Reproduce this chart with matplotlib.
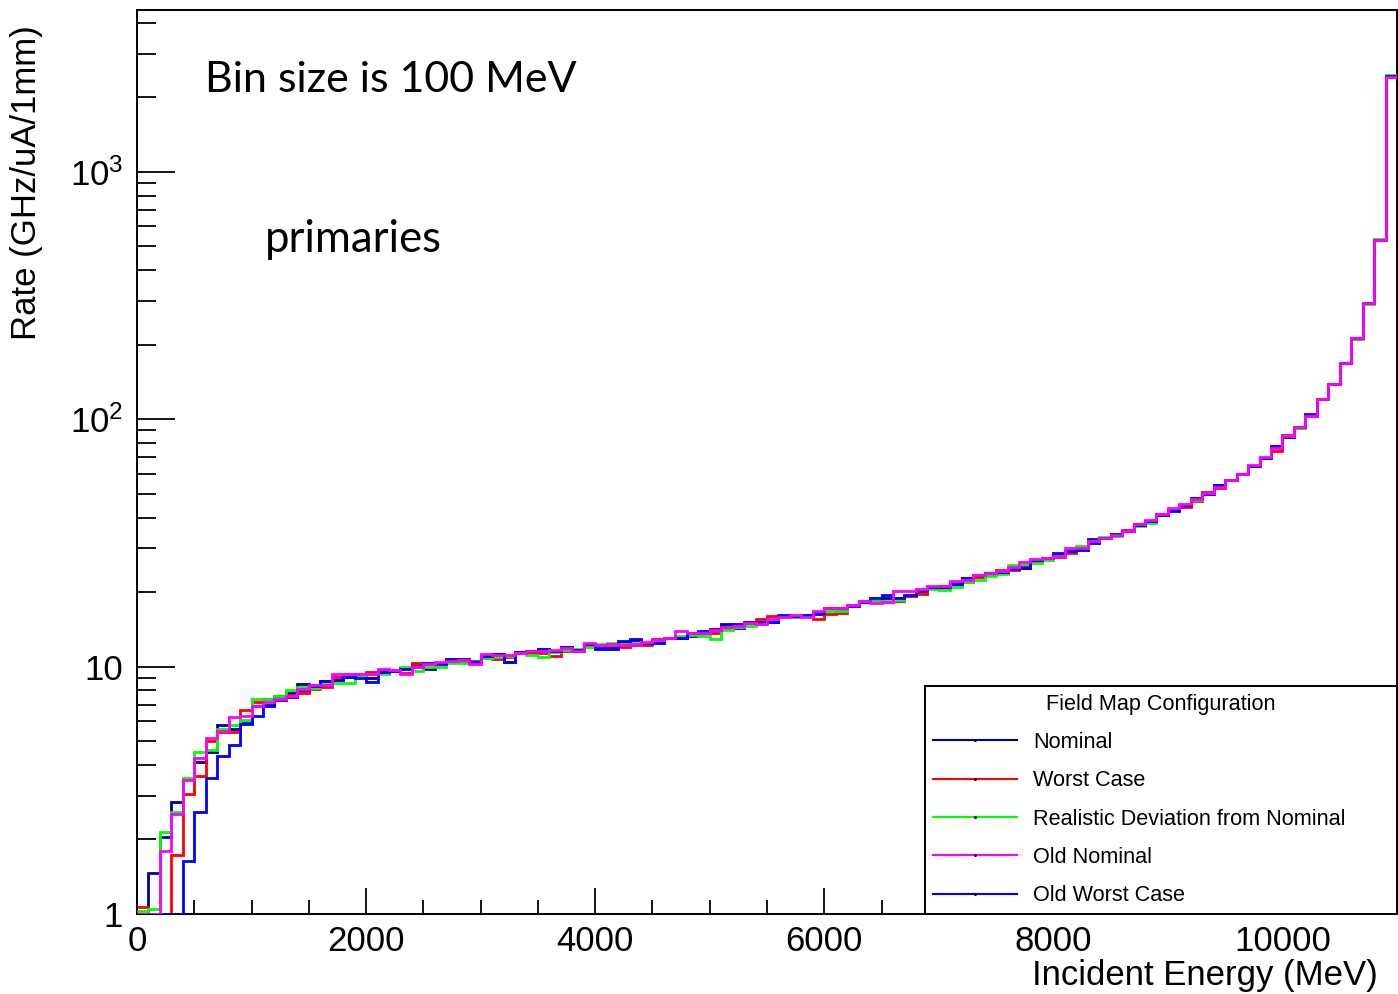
"""
primary rate vs incident energy for the field map configurations
"""

import numpy as np
import matplotlib
matplotlib.use('Agg')
from matplotlib import pyplot as plt
from matplotlib.lines import Line2D
from matplotlib.ticker import FixedLocator, FixedFormatter, NullFormatter

plt.rcParams['font.family'] = ['Liberation Sans', 'DejaVu Sans']
plt.rcParams['mathtext.fontset'] = 'custom'
plt.rcParams['mathtext.rm'] = 'Liberation Sans'
plt.rcParams['mathtext.it'] = 'Liberation Sans:italic'

# 100 MeV bins, 0 - 11000 MeV
bin_edges = np.arange(0, 11001, 100)

nominal = [
    1.0, 1.46, 2.04, 2.83, 3.5, 4.11, 4.5, 5.82, 5.6, 5.9,
    6.95, 7.0, 7.6, 7.8, 8.46, 8.4, 8.72, 8.8, 9.1, 9.2,
    9.0, 9.6, 9.6, 9.9, 10.2, 9.8, 10.3, 10.74, 10.7, 10.4,
    11.0, 11.2, 10.4, 11.4, 11.5, 11.8, 11.6, 12.0, 11.6, 12.3,
    11.8, 11.8, 12.5, 12.8, 12.4, 12.4, 13.0, 13.0, 13.3, 13.6,
    14.2, 14.8, 14.3, 15.0, 15.1, 15.1, 16.0, 16.0, 16.1, 16.3,
    17.2, 17.0, 17.6, 18.3, 18.4, 18.9, 18.9, 19.3, 20.2, 20.8,
    21.0, 21.5, 22.7, 23.4, 23.9, 24.2, 24.7, 25.0, 26.8, 27.4,
    28.4, 29.4, 29.7, 32.7, 33.0, 34.2, 35.3, 37.5, 38.6, 41.0,
    43.0, 45.0, 47.9, 50.0, 54.2, 56.5, 59.9, 64.8, 69.7, 77.5,
    84.5, 92.7, 104, 120, 138, 168, 212, 294, 530, 2420,
]
worst_case = [
    1.07, 1.0, 1.0, 1.73, 3.06, 3.62, 5.0, 5.42, 5.45, 6.65,
    7.19, 7.4, 7.5, 7.7, 7.8, 8.1, 8.3, 9.05, 9.3, 9.35,
    9.48, 9.5, 9.7, 9.4, 10.35, 10.2, 10.3, 10.5, 10.5, 10.5,
    10.8, 10.75, 10.9, 11.3, 11.3, 11.3, 11.0, 11.6, 11.7, 12.2,
    12.0, 12.0, 12.0, 12.2, 12.2, 12.9, 13.0, 13.2, 13.5, 13.7,
    13.7, 14.3, 14.7, 15.0, 15.5, 16.0, 15.9, 15.9, 16.0, 15.6,
    16.3, 16.5, 17.7, 18.4, 18.2, 18.3, 18.4, 19.2, 19.7, 20.8,
    21.1, 21.8, 22.0, 23.0, 23.7, 24.5, 24.6, 25.4, 26.5, 27.5,
    27.6, 28.7, 30.0, 32.0, 33.0, 34.0, 35.6, 37.2, 38.3, 41.2,
    43.0, 44.3, 46.8, 50.5, 52.7, 56.6, 60.0, 64.7, 69.6, 74.5,
    86.0, 92.0, 103, 120.5, 138, 168, 211, 295, 530, 2420,
]
realistic = [
    1.03, 1.05, 2.15, 2.58, 3.56, 4.51, 4.61, 5.6, 5.82, 6.1,
    7.4, 7.4, 7.58, 8.0, 8.3, 8.2, 8.5, 8.6, 8.6, 9.2,
    9.3, 9.3, 9.7, 9.97, 9.55, 10.0, 10.0, 10.3, 10.3, 10.3,
    10.8, 10.9, 11.0, 11.3, 11.1, 10.9, 11.4, 11.7, 11.8, 12.0,
    12.3, 12.5, 12.3, 12.4, 12.4, 12.4, 13.0, 13.3, 13.4, 13.3,
    12.9, 14.1, 14.5, 14.6, 14.8, 15.3, 15.8, 15.8, 16.1, 16.5,
    16.7, 16.7, 17.5, 18.2, 18.4, 18.4, 18.6, 19.5, 20.3, 20.5,
    20.4, 21.0, 22.0, 22.4, 23.3, 23.7, 25.6, 26.0, 26.2, 27.0,
    28.0, 29.2, 30.8, 31.7, 33.4, 33.8, 35.3, 37.0, 38.1, 41.0,
    43.2, 44.8, 47.2, 50.2, 53.8, 56.6, 59.8, 64.7, 69.8, 76.8,
    85.2, 92.2, 103.5, 120, 138, 168, 211, 293, 535, 2450,
]
old_nominal = [
    1.0, 1.0, 1.79, 2.54, 3.49, 4.27, 5.13, 5.5, 6.26, 6.3,
    6.9, 7.2, 7.4, 7.6, 8.1, 8.4, 8.4, 9.3, 9.35, 9.3,
    9.3, 9.78, 9.7, 9.3, 10.0, 10.2, 10.4, 10.5, 10.6, 10.2,
    11.19, 11.1, 11.1, 11.3, 11.5, 11.6, 11.7, 11.9, 11.6, 12.4,
    12.2, 12.3, 12.2, 12.3, 12.6, 12.8, 13.0, 13.9, 13.7, 13.7,
    14.0, 14.5, 14.6, 15.0, 14.9, 15.5, 15.9, 16.1, 15.9, 16.8,
    17.3, 17.2, 17.7, 18.4, 18.0, 18.2, 20.2, 20.2, 20.5, 21.1,
    21.2, 22.2, 22.4, 23.4, 23.9, 24.3, 25.2, 26.5, 27.3, 27.5,
    28.0, 30.2, 30.0, 32.2, 33.0, 34.0, 35.4, 37.6, 39.1, 41.2,
    43.6, 45.3, 47.5, 50.3, 53.2, 56.8, 60.2, 65.2, 70.0, 76.5,
    85.6, 92.5, 103, 120.5, 138.6, 168.6, 212, 294, 531, 2417,
]
old_worst_case = [
    1.0, 1.0, 1.0, 1.0, 1.64, 2.58, 3.55, 4.36, 4.83, 5.88,
    6.3, 6.9, 7.35, 7.5, 8.0, 8.35, 8.72, 8.8, 9.1, 9.0,
    8.64, 9.5, 9.6, 9.8, 10.0, 10.35, 10.2, 10.6, 10.6, 10.4,
    11.0, 11.2, 10.4, 11.3, 11.5, 11.8, 11.6, 12.0, 11.7, 12.3,
    11.9, 11.9, 12.7, 12.9, 12.5, 12.5, 13.0, 13.0, 13.7, 13.9,
    14.1, 14.6, 14.8, 15.1, 15.1, 15.2, 16.1, 16.0, 16.2, 16.4,
    17.3, 17.3, 17.6, 18.3, 19.0, 19.4, 19.0, 19.4, 20.3, 20.9,
    21.0, 21.6, 22.7, 23.4, 23.9, 24.2, 24.8, 24.9, 26.9, 27.4,
    28.7, 29.2, 29.8, 31.6, 33.0, 34.1, 35.4, 37.4, 38.8, 41.1,
    42.6, 45.0, 47.6, 50.2, 53.9, 56.6, 59.9, 64.9, 69.9, 77.2,
    85.0, 92.5, 104.5, 120.2, 138.2, 168.2, 212, 294, 531, 2425,
]

labels = ['Nominal', 'Worst Case', 'Realistic Deviation from Nominal',
          'Old Nominal', 'Old Worst Case']
colors = ['#000099', '#ff0000', '#00ff00', '#ff00ff', '#0000ff']
series = [nominal, worst_case, realistic, old_nominal, old_worst_case]
draw_order = [0, 1, 2, 4, 3]

fig = plt.figure(figsize=(13.98, 9.94), dpi=100)
ax = fig.add_axes([0.098, 0.0805, 0.9013, 0.9095])

for i in draw_order:
    ax.stairs(series[i], bin_edges, baseline=None, color=colors[i],
              linewidth=2, zorder=3)

ax.set_yscale('log')
ax.set_xlim(0, 11000)
ax.set_ylim(1, 4500)

# ROOT style ticks: inside, only on left and bottom
ax.set_xticks([0, 2000, 4000, 6000, 8000, 10000])
ax.set_xticks(np.arange(500, 11000, 500), minor=True)
ax.xaxis.set_minor_formatter(NullFormatter())
ax.yaxis.set_major_locator(FixedLocator([1, 10, 100, 1000]))
ax.yaxis.set_major_formatter(FixedFormatter(['1', '10', r'$10^{2}$', r'$10^{3}$']))
minors = [m * d for d in (1, 10, 100, 1000) for m in range(2, 10) if m * d < 4500]
ax.yaxis.set_minor_locator(FixedLocator(minors))
ax.yaxis.set_minor_formatter(NullFormatter())

ax.tick_params(axis='x', which='major', direction='in', length=19, width=1.3,
               labelsize=25, pad=8)
ax.tick_params(axis='x', which='minor', direction='in', length=10, width=1.3)
ax.tick_params(axis='y', which='major', direction='in', length=27, width=1.3,
               labelsize=25, pad=10)
ax.tick_params(axis='y', which='minor', direction='in', length=14, width=1.3)
for s in ax.spines.values():
    s.set_linewidth(1.4)

ax.set_xlabel('Incident Energy (MeV)', fontsize=25, loc='right')
ax.xaxis.set_label_coords(0.985, -0.05)
ax.set_ylabel('Rate (GHz/uA/1mm)', fontsize=25, loc='top')
ax.yaxis.set_label_coords(-0.075, 0.983)

ax.text(0.054, 0.9226, 'Bin size is 100 MeV', transform=ax.transAxes,
        fontsize=31, family='Lato', va='center', ha='left')
ax.text(0.1016, 0.7456, 'primaries', transform=ax.transAxes,
        fontsize=31.5, family='Lato', va='center', ha='left')

handles = [Line2D([], [], color=c, linewidth=1.5, marker='o', markersize=1.2,
                  markerfacecolor='k', markeredgecolor='k') for c in colors]
leg = ax.legend(handles, labels, title='Field Map Configuration',
                loc='lower right', bbox_to_anchor=(0.6254, 0, 0.3746, 0.25),
                mode='expand', borderaxespad=0, fontsize=15.6,
                title_fontsize=15.6, fancybox=False, framealpha=1,
                edgecolor='black', numpoints=1, handlelength=3.9,
                handletextpad=0.74, labelspacing=0.8, borderpad=0.35)
leg.get_frame().set_linewidth(1.4)
leg.set_zorder(5)

plt.savefig('out.png', dpi=100)
